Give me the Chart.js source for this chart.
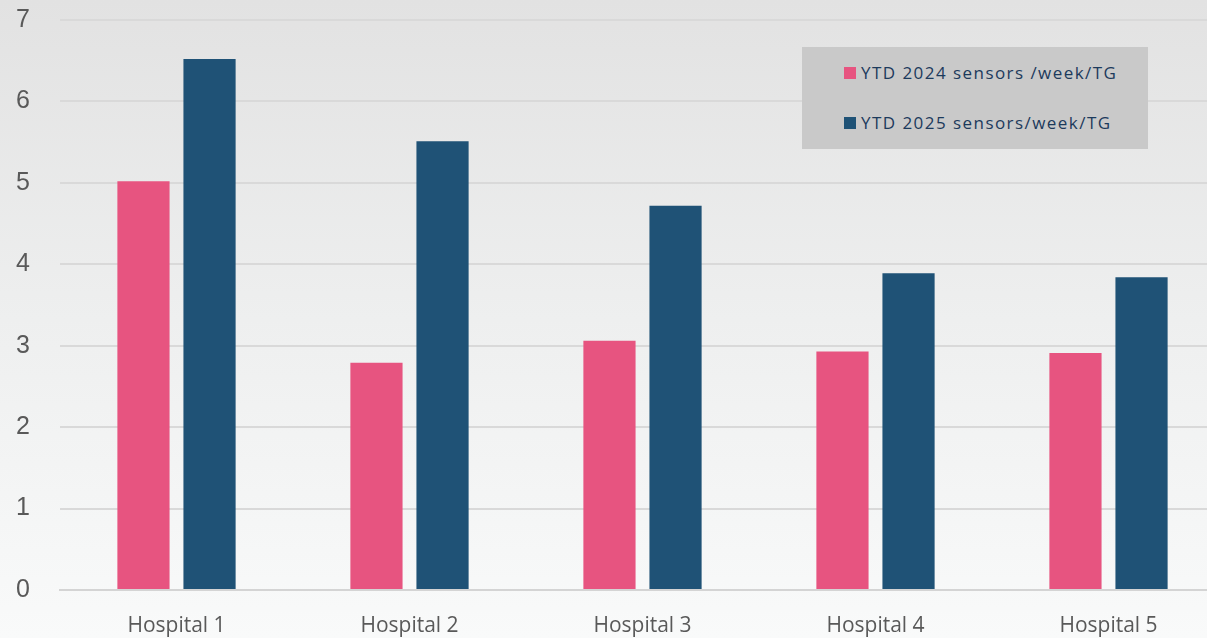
<!DOCTYPE html>
<html lang="en">
<head>
    <meta charset="UTF-8">
    <title>Sensors per week per TG</title>
    <script src="https://cdn.jsdelivr.net/npm/chart.js"></script>
    <style>
        html, body { margin: 0; padding: 0; overflow: hidden; }
        body {
            width: 1207px; height: 638px;
            background: linear-gradient(to bottom, #e2e2e2 0%, #eeefef 50%, #f9fafa 100%);
            position: relative;
        }
        #wrap { position: absolute; left: 0; top: 0; width: 1225px; height: 638px; }
        #legend {
            position: absolute; left: 802px; top: 47px; width: 346px; height: 102px;
            background: #c9c9c9; font-family: "Open Sans", sans-serif; font-size: 17px;
            letter-spacing: 1.45px; color: #1c3a5c;
        }
        .item { position: absolute; left: 42px; display: flex; align-items: center; }
        .sw { width: 12px; height: 12px; margin-right: 5px; }
    </style>
</head>
<body>
    <div id="wrap"><canvas id="chart" width="1225" height="638"></canvas></div>
    <div id="legend"></div>

    <script>
        const hospitals = ['Hospital 1', 'Hospital 2', 'Hospital 3', 'Hospital 4', 'Hospital 5'];
        const ytd2024 = [5.02, 2.79, 3.06, 2.93, 2.91];
        const ytd2025 = [6.52, 5.51, 4.72, 3.89, 3.84];
        const seriesNames = ['YTD 2024 sensors /week/TG', 'YTD 2025 sensors/week/TG'];
        const colors = ['#e75480', '#1f5276'];

        const chart = new Chart(document.getElementById('chart'), {
            type: 'bar',
            data: {
                labels: hospitals,
                datasets: [
                    { label: seriesNames[0], data: ytd2024, backgroundColor: colors[0] },
                    { label: seriesNames[1], data: ytd2025, backgroundColor: colors[1] }
                ]
            },
            options: {
                responsive: false,
                animation: false,
                layout: { padding: { top: 20, bottom: 0, left: 0, right: 0 } },
                datasets: { bar: { categoryPercentage: 0.567, barPercentage: 0.79 } },
                plugins: { legend: { display: false }, tooltip: { enabled: false } },
                scales: {
                    x: {
                        grid: { display: false },
                        border: { color: '#d4d4d4', width: 2 },
                        ticks: { color: '#595959', padding: 15, font: { family: 'Open Sans', size: 21 } },
                        afterFit: s => { s.height = 48; }
                    },
                    y: {
                        min: 0, max: 7,
                        ticks: { stepSize: 1, color: '#595959', padding: 30, font: { family: 'Liberation Sans', size: 25 } },
                        grid: { color: '#d9d9d9', lineWidth: 2, drawTicks: false },
                        border: { display: false },
                        afterFit: s => { s.width = 60; s.paddingTop = 0; s.paddingBottom = 0; }
                    }
                }
            }
        });

        // legend box
        const lg = document.getElementById('legend');
        seriesNames.forEach((name, i) => {
            const d = document.createElement('div');
            d.className = 'item';
            d.style.top = (i === 0 ? 14 : 64) + 'px';
            d.innerHTML = '<span class="sw" style="background:' + colors[i] + '"></span><span></span>';
            d.lastChild.textContent = name;
            lg.appendChild(d);
        });
    </script>
</body>
</html>
